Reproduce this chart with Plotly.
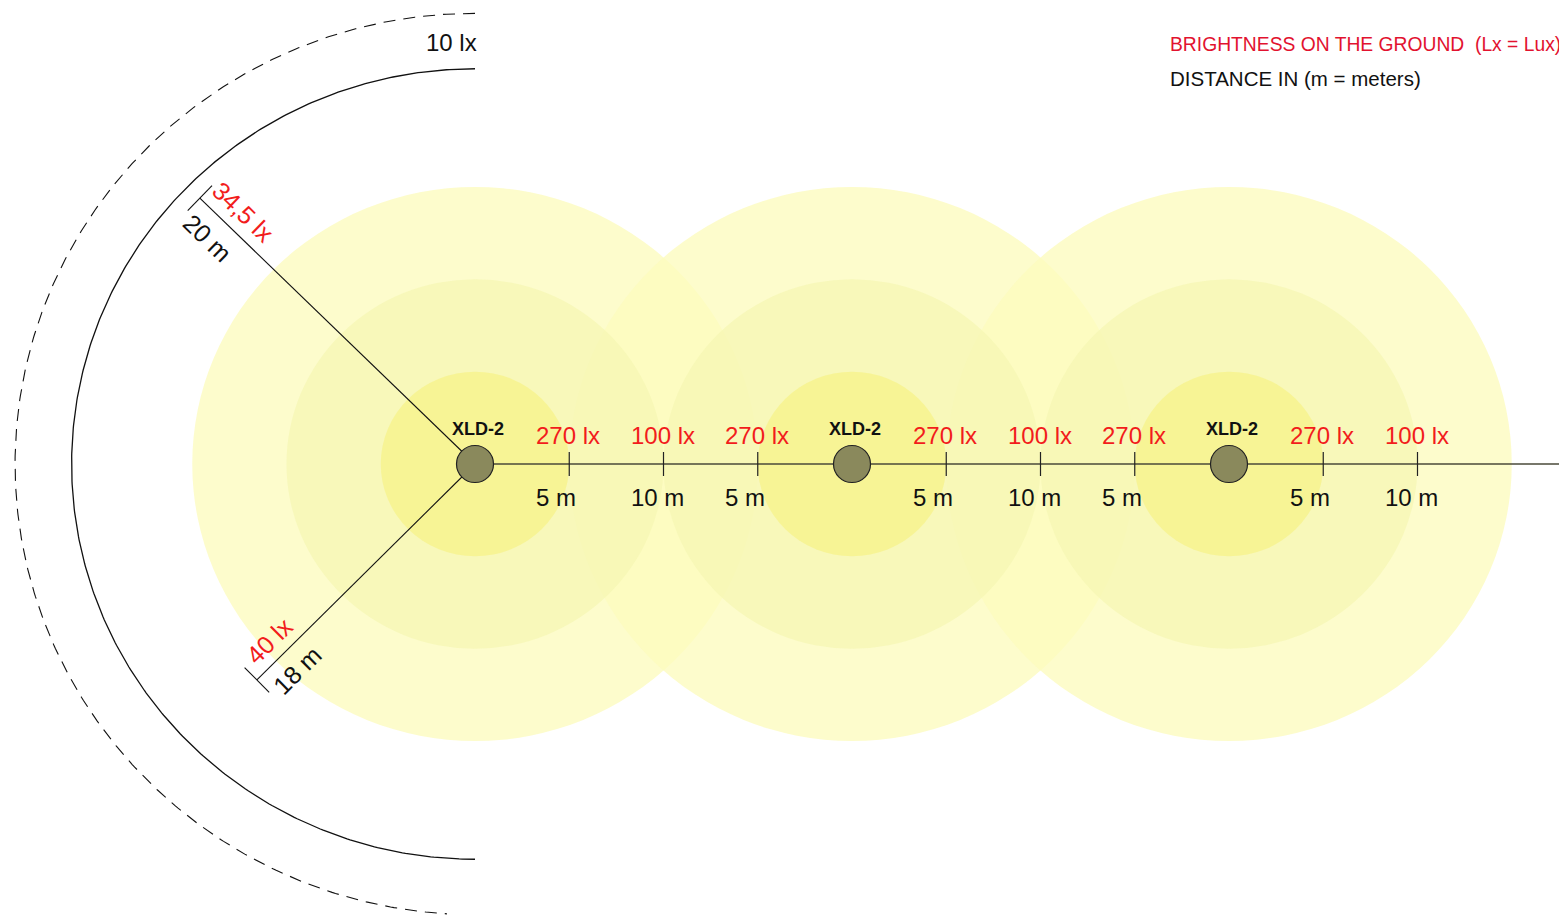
import numpy as np
import plotly.graph_objects as go

# ---------------- data ----------------
lamp_names = ["XLD-2", "XLD-2", "XLD-2"]
lamp_x_m = [0, 20, 40]                 # lamp positions along the ground (m)
ring_radii_m = [15, 10, 5]             # light rings around each lamp (m)
tick_offsets_m = [[5, 10, 15], [5, 10, 15], [5, 10]]
lux_labels = [["270 lx", "100 lx", "270 lx"], ["270 lx", "100 lx", "270 lx"], ["270 lx", "100 lx"]]
dist_labels = [["5 m", "10 m", "5 m"], ["5 m", "10 m", "5 m"], ["5 m", "10 m"]]

ray_angles_deg = [135.4, 225.3]        # direction of the two side measurements
ray_lengths_m = [20.5, 16.45]
ray_lux_labels = ["34,5 lx", "40 lx"]
ray_dist_labels = ["20 m", "18 m"]

arc_solid_r_m = 21.4
arc_dashed_r_m = 24.4
arc_dashed_label = "10 lx"

header_lines = ["BRIGHTNESS ON THE GROUND&nbsp;&nbsp;(Lx = Lux)", "DISTANCE IN (m = meters)"]

# ---------------- figure geometry ----------------
W, H = 1567, 917
PAGE_OFF = 8                            # default body margin of the page
SX = 18.85                              # px per metre, horizontal
SY = 18.47                              # px per metre, vertical
ORIGIN_PX = (475 - PAGE_OFF, 464 - PAGE_OFF)
x_range = [-ORIGIN_PX[0] / SX, (W - ORIGIN_PX[0]) / SX]
y_range = [-(H - ORIGIN_PX[1]) / SY, ORIGIN_PX[1] / SY]

FONT = "Liberation Sans, Arial, sans-serif"
RED = "#f21c1c"
HEAD_RED = "#e2122f"
BLACK = "#111"

fig = go.Figure()
shapes = []
annotations = []

ring_fills = {15: "rgba(253,251,190,0.78)", 10: "rgba(245,246,178,0.70)", 5: "rgba(246,242,134,0.70)"}
for r in ring_radii_m:
    for lx in lamp_x_m:
        shapes.append(dict(type="circle", xref="x", yref="y", layer="below",
                           x0=lx - r, x1=lx + r, y0=-r, y1=r,
                           fillcolor=ring_fills[r], line=dict(width=0)))

# arcs
th = np.radians(np.linspace(90, 270, 400))
fig.add_trace(go.Scatter(x=arc_solid_r_m * np.cos(th), y=arc_solid_r_m * np.sin(th),
                         mode="lines", line=dict(color=BLACK, width=1.3), hoverinfo="skip"))
th2 = np.radians(np.linspace(90, 266.5, 400))
fig.add_trace(go.Scatter(x=arc_dashed_r_m * np.cos(th2), y=arc_dashed_r_m * np.sin(th2),
                         mode="lines", line=dict(color=BLACK, width=1.1, dash="12px,8px"), hoverinfo="skip"))
annotations.append(dict(x=0.22, y=22.8, xref="x", yref="y", text=arc_dashed_label, showarrow=False,
                        xanchor="right", yanchor="middle", font=dict(family=FONT, size=24, color=BLACK)))

# rays with end ticks and labels (offsets worked out in screen pixels)
for ang, L, lt, dt in zip(ray_angles_deg, ray_lengths_m, ray_lux_labels, ray_dist_labels):
    a = np.radians(ang)
    end = np.array([np.cos(a) * L, np.sin(a) * L])
    end_px = end * np.array([SX, SY])
    Lpx = np.hypot(*end_px)
    up = end_px / Lpx                       # unit direction in pixel space (y up)
    npx = np.array([-up[1], up[0]])
    fig.add_trace(go.Scatter(x=[0, end[0]], y=[0, end[1]], mode="lines",
                             line=dict(color=BLACK, width=1.1), hoverinfo="skip"))
    t0 = (end_px - npx * 17.5) / np.array([SX, SY])
    t1 = (end_px + npx * 17.5) / np.array([SX, SY])
    fig.add_trace(go.Scatter(x=[t0[0], t1[0]], y=[t0[1], t1[1]], mode="lines",
                             line=dict(color=BLACK, width=1.1), hoverinfo="skip"))
    tang = -np.degrees(np.arctan2(-up[1], -up[0]))
    tang = ((tang + 90) % 180) - 90
    if ang < 180:
        p_lux = (up * (Lpx - 41) - npx * 20) / np.array([SX, SY])
        p_dst = (up * (Lpx - 33) + npx * 23) / np.array([SX, SY])
    else:
        p_lux = (up * (Lpx - 36) - npx * 19) / np.array([SX, SY])
        p_dst = (up * (Lpx - 36) + npx * 21) / np.array([SX, SY])
    annotations.append(dict(x=p_lux[0], y=p_lux[1], xref="x", yref="y", text=lt, showarrow=False,
                            textangle=tang, font=dict(family=FONT, size=25, color=RED)))
    annotations.append(dict(x=p_dst[0], y=p_dst[1], xref="x", yref="y", text=dt, showarrow=False,
                            textangle=tang, font=dict(family=FONT, size=25, color=BLACK)))

# ground line
fig.add_trace(go.Scatter(x=[lamp_x_m[0], x_range[1]], y=[0, 0], mode="lines",
                         line=dict(color="#4a4a3a", width=1.4), hoverinfo="skip"))

# ticks & labels
for lx, offs, lux, dst in zip(lamp_x_m, tick_offsets_m, lux_labels, dist_labels):
    for o, lt, dt in zip(offs, lux, dst):
        tx = lx + o
        fig.add_trace(go.Scatter(x=[tx, tx], y=[-0.65, 0.65], mode="lines",
                                 line=dict(color="#222", width=1.2), hoverinfo="skip"))
        annotations.append(dict(x=tx - 1.85, y=1.52, xref="x", yref="y", text=lt, showarrow=False,
                                xanchor="left", yanchor="middle",
                                font=dict(family=FONT, size=24, color=RED)))
        annotations.append(dict(x=tx - 1.85, y=-1.79, xref="x", yref="y", text=dt, showarrow=False,
                                xanchor="left", yanchor="middle",
                                font=dict(family=FONT, size=24, color=BLACK)))

# lamps
fig.add_trace(go.Scatter(x=lamp_x_m, y=[0] * len(lamp_x_m), mode="markers",
                         marker=dict(size=37, color="#8a895c", line=dict(color="#222", width=1.2)),
                         hoverinfo="skip"))
for lx, name in zip(lamp_x_m, lamp_names):
    annotations.append(dict(x=lx + 0.16, y=1.9, xref="x", yref="y", text="<b>" + name + "</b>",
                            showarrow=False, xanchor="center", yanchor="middle",
                            font=dict(family=FONT, size=18, color=BLACK)))

# header
annotations.append(dict(x=(1168 - PAGE_OFF) / W, y=1 - (44 - PAGE_OFF) / H, xref="paper", yref="paper",
                        text=header_lines[0], showarrow=False, xanchor="left", yanchor="middle",
                        font=dict(family=FONT, size=19.3, color=HEAD_RED)))
annotations.append(dict(x=(1168 - PAGE_OFF) / W, y=1 - (78 - PAGE_OFF) / H, xref="paper", yref="paper",
                        text=header_lines[1], showarrow=False, xanchor="left", yanchor="middle",
                        font=dict(family=FONT, size=20.5, color=BLACK)))

fig.update_layout(
    width=W, height=H, margin=dict(l=0, r=0, t=0, b=0),
    paper_bgcolor="white", plot_bgcolor="white", showlegend=False,
    xaxis=dict(range=x_range, visible=False, fixedrange=True),
    yaxis=dict(range=y_range, visible=False, fixedrange=True),
    shapes=shapes, annotations=annotations,
)
fig.write_html("out.html")
